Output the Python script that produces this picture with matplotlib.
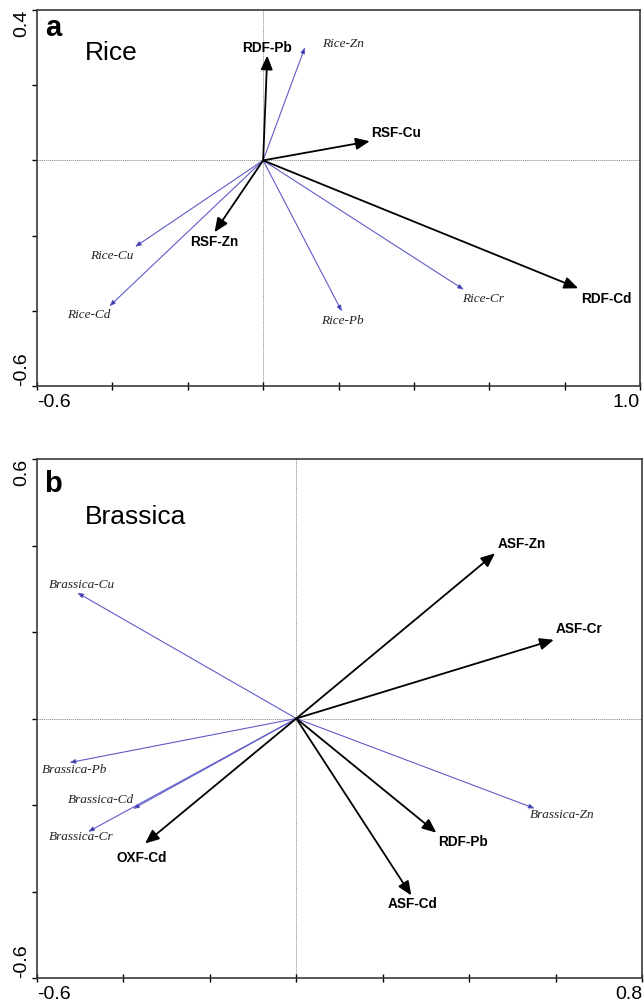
import matplotlib
matplotlib.use("Agg")
import matplotlib.pyplot as plt

plt.rcParams["font.family"] = ["Liberation Sans", "DejaVu Sans"]

# panel a: rice
rice_env_names = ["RDF-Pb", "RSF-Cu", "RSF-Zn", "RDF-Cd"]
rice_env_x = [0.011, 0.283, -0.129, 0.836]
rice_env_y = [0.279, 0.051, -0.191, -0.340]

rice_sp_names = ["Rice-Zn", "Rice-Cu", "Rice-Cd", "Rice-Pb", "Rice-Cr"]
rice_sp_x = [0.111, -0.340, -0.408, 0.209, 0.533]
rice_sp_y = [0.301, -0.230, -0.388, -0.402, -0.344]

# panel b: brassica
bras_env_names = ["ASF-Zn", "ASF-Cr", "OXF-Cd", "RDF-Pb", "ASF-Cd"]
bras_env_x = [0.460, 0.596, -0.350, 0.324, 0.266]
bras_env_y = [0.382, 0.182, -0.289, -0.264, -0.409]

bras_sp_names = ["Brassica-Cu", "Brassica-Pb", "Brassica-Cd", "Brassica-Cr", "Brassica-Zn"]
bras_sp_x = [-0.507, -0.525, -0.378, -0.482, 0.552]
bras_sp_y = [0.291, -0.102, -0.209, -0.262, -0.208]

# label offsets from arrow tips, in pixels (layout only)
offs_a = {
    "RDF-Pb": (0, 7.5), "RSF-Cu": (26.7, 8.7), "RSF-Zn": (0, -9.6), "RDF-Cd": (28, -10.3),
    "Rice-Zn": (38.5, 3.4), "Rice-Cu": (-23.5, -9.5), "Rice-Cd": (-20.4, -8.3),
    "Rice-Pb": (0, -9.3), "Rice-Cr": (19.3, -9.4),
}
offs_b = {
    "ASF-Zn": (27, 9.7), "ASF-Cr": (25, 10.5), "OXF-Cd": (-3.3, -15), "RDF-Pb": (27, -9),
    "ASF-Cd": (1, -8.8),
    "Brassica-Cu": (4.6, 7.6), "Brassica-Pb": (5.6, -7.4), "Brassica-Cd": (-31.5, 9),
    "Brassica-Cr": (-6.4, -5.6), "Brassica-Zn": (27.4, -6.4),
}

BLACK_ARROW = dict(arrowstyle="-|>,head_length=0.7,head_width=0.3", color="black",
                   lw=1.3, shrinkA=0, shrinkB=0, mutation_scale=12)
BLUE_ARROW = dict(arrowstyle="-|>,head_length=0.35,head_width=0.13", ec="#5f5cc8",
                  fc="#1c1c8c", lw=0.8, shrinkA=0, shrinkB=0, mutation_scale=10)


def draw_panel(ax, env_names, env_x, env_y, sp_names, sp_x, sp_y, offs,
               xlim, ylim, letter, title, title_y):
    ax.set_xlim(*xlim)
    ax.set_ylim(*ylim)
    ax.axhline(0, color="#888888", lw=0.6, ls=(0, (1.5, 1)), zorder=0)
    ax.axvline(0, color="#888888", lw=0.6, ls=(0, (1.5, 1)), zorder=0)

    for n, x, y in zip(sp_names, sp_x, sp_y):
        ax.annotate("", xy=(x, y), xytext=(0, 0), arrowprops=BLUE_ARROW)
        dx, dy = offs[n]
        ax.annotate(n, xy=(x, y), xytext=(dx, dy), textcoords="offset pixels",
                    ha="center", va="center", fontsize=9.5, style="italic",
                    family=["Liberation Serif"], color="#222222")
    for n, x, y in zip(env_names, env_x, env_y):
        ax.annotate("", xy=(x, y), xytext=(0, 0), arrowprops=BLACK_ARROW)
        dx, dy = offs[n]
        ax.annotate(n, xy=(x, y), xytext=(dx, dy), textcoords="offset pixels",
                    ha="center", va="center", fontsize=9.8, fontweight="bold")

    ax.text(0.027, 0.952, letter, transform=ax.transAxes, fontsize=21,
            fontweight="bold", ha="center", va="center")
    ax.text(0.079, title_y, title, transform=ax.transAxes, fontsize=19,
            ha="left", va="center")

    xt = [round(xlim[0] + 0.2 * i, 1) for i in range(int(round((xlim[1] - xlim[0]) / 0.2)) + 1)]
    yt = [round(ylim[0] + 0.2 * i, 1) for i in range(int(round((ylim[1] - ylim[0]) / 0.2)) + 1)]
    ax.set_xticks(xt)
    ax.set_xticklabels([f"{v:.1f}" if i in (0, len(xt) - 1) else "" for i, v in enumerate(xt)])
    ax.set_yticks(yt)
    ax.set_yticklabels([f"{v:.1f}" if i in (0, len(yt) - 1) else "" for i, v in enumerate(yt)],
                       rotation=90)
    ax.tick_params(axis="x", direction="inout", length=5.5, width=1, pad=3, labelsize=14)
    ax.tick_params(axis="y", direction="out", length=3.6, width=1, pad=1.5, labelsize=14)
    xl = ax.get_xticklabels()
    xl[0].set_ha("left")
    xl[-1].set_ha("right")
    yl = ax.get_yticklabels()
    yl[0].set_va("bottom")
    yl[-1].set_va("top")
    for s in ax.spines.values():
        s.set_linewidth(1.2)
        s.set_color("#3a3a3a")


fig = plt.figure(figsize=(6.44, 10.07), dpi=100)
ax_a = fig.add_axes([37 / 644, 1 - 386 / 1007, 603 / 644, 376 / 1007])
ax_b = fig.add_axes([37 / 644, 1 - 978 / 1007, 605 / 644, 519 / 1007])

draw_panel(ax_a, rice_env_names, rice_env_x, rice_env_y,
           rice_sp_names, rice_sp_x, rice_sp_y, offs_a,
           (-0.6, 1.0), (-0.6, 0.4), "a", "Rice", 1 - 43 / 376)
draw_panel(ax_b, bras_env_names, bras_env_x, bras_env_y,
           bras_sp_names, bras_sp_x, bras_sp_y, offs_b,
           (-0.6, 0.8), (-0.6, 0.6), "b", "Brassica", 1 - 58 / 519)

fig.savefig("out.png", dpi=100)
